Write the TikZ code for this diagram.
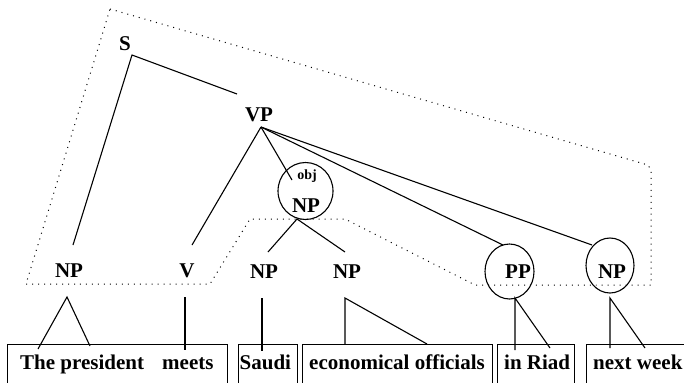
\documentclass[tikz,border=0pt]{standalone}
\usepackage{fontspec}
\setmainfont{Liberation Serif}
\usetikzlibrary{shapes.geometric}
\begin{document}
\begin{tikzpicture}[x=1bp,y=-1bp,
  lbl/.style={font=\fontsize{21bp}{25bp}\selectfont\bfseries, inner sep=0pt, anchor=base},
  word/.style={font=\fontsize{21bp}{25bp}\selectfont\bfseries, inner sep=0pt, anchor=base west},
  small/.style={font=\fontsize{14bp}{16bp}\selectfont\bfseries, inner sep=0pt, anchor=base},
  edge/.style={line width=1.1pt},
  circ/.style={draw, ellipse, line width=1.1pt, inner sep=0pt},
  boxline/.style={line width=0.9pt},
  region/.style={line width=1pt, dash pattern=on 1pt off 5pt}]
\useasboundingbox (0,0) rectangle (684,382);

% dotted region
\draw[region] (110,9) -- (648,165) -- (651,170) -- (651,285) -- (475,285)
  -- (345,219) -- (250,219) -- (210,284) -- (26,284) -- cycle;

% labels
\node[lbl] (S) at (125,50) {S};
\node[lbl] (VP) at (259,121) {VP};
\node[circ, minimum width=55bp, minimum height=57bp] (objc) at (305.5,191) {};
\node[small] (obj) at (307,179) {obj};
\node[lbl] (NPo) at (306,212) {NP};
\node[lbl] (NP1) at (69,277) {NP};
\node[lbl] (V) at (187,277) {V};
\node[lbl] (NP2) at (264,278) {NP};
\node[lbl] (NP3) at (347,278) {NP};
\node[circ, minimum width=49bp, minimum height=55bp] (PPc) at (509.5,271.5) {};
\node[lbl] (PP) at (518,278) {PP};
\node[circ, minimum width=48bp, minimum height=55bp] (NP4c) at (610,265.5) {};
\node[lbl] (NP4) at (612,278) {NP};

% connector points
\coordinate (Sb) at (132,55);
\coordinate (VPt) at (237,94);
\coordinate (VPb) at (261,127);
\coordinate (NP1t) at (73,245);
\coordinate (Vt) at (192,245);
\coordinate (objt) at (292,180);
\coordinate (PPt) at (503,245);
\coordinate (NP4t) at (592,245);
\coordinate (NPob) at (297,219);
\coordinate (NP2t) at (268,252);
\coordinate (NP3t) at (345,252);
\coordinate (NP1b) at (67,297);
\coordinate (Vb) at (185,297);
\coordinate (NP2b) at (262,298);
\coordinate (NP3b) at (345,298);
\coordinate (PPb) at (515,298);
\coordinate (NP4b) at (610,298);

% tree edges
\draw[edge] (NP1t) -- (Sb) -- (VPt);
\draw[edge] (VPb) -- (Vt);
\draw[edge] (VPb) -- (objt);
\draw[edge] (VPb) -- (PPt);
\draw[edge] (VPb) -- (NP4t);
\draw[edge] (NP2t) -- (NPob) -- (NP3t);

% word boxes
\draw[boxline] (7,390) -- (7,344) -- (227,344) -- (227,390);
\draw[boxline] (238,390) -- (238,344) -- (297,344) -- (297,390);
\draw[boxline] (302.5,390) -- (302.5,344) -- (492,344) -- (492,390);
\draw[boxline] (497,390) -- (497,344) -- (574,344) -- (574,390);
\draw[boxline] (586,390) -- (586,344) -- (690,344);

% words
\node[word] (w1) at (20,369) {The president};
\node[word] (w2) at (162,369) {meets};
\node[word] (w3) at (239.5,369) {Saudi};
\node[word] (w4) at (309,369) {economical officials};
\node[word] (w5) at (504,369) {in Riad};
\node[word] (w6) at (593,369) {next week};

% word connector ends
\coordinate (w1a) at (38,349);
\coordinate (w1b) at (90,346);
\coordinate (w2a) at (185,350);
\coordinate (w3a) at (262,351);
\coordinate (w4a) at (345,344);
\coordinate (w4b) at (427,344);
\coordinate (w5a) at (515,350);
\coordinate (w5b) at (550,348);
\coordinate (w6a) at (610,348);
\coordinate (w6b) at (645,348);

% lower edges
\draw[edge] (w1a) -- (NP1b) -- (w1b);
\draw[edge] (Vb) -- (w2a);
\draw[edge] (NP2b) -- (w3a);
\draw[edge] (w4a) -- (NP3b) -- (w4b);
\draw[edge] (w5a) -- (PPb) -- (w5b);
\draw[edge] (w6a) -- (NP4b) -- (w6b);
\end{tikzpicture}
\end{document}
